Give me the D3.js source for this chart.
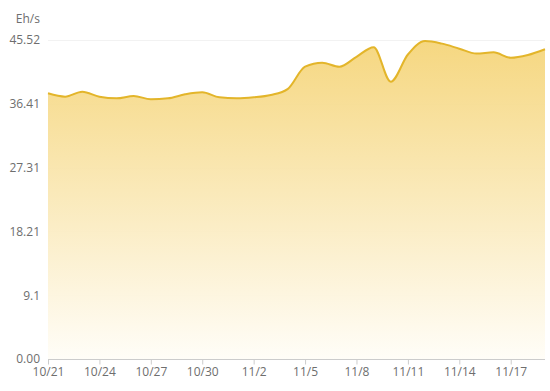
<!DOCTYPE html>
<html><head><meta charset="utf-8">
<script src="https://cdn.jsdelivr.net/npm/d3@7"></script>
<style>html,body{margin:0;padding:0;background:#fff;}svg{display:block;}</style>
</head><body>
<div id="chart"></div>
<script>
const dates = ["10/21","10/22","10/23","10/24","10/25","10/26","10/27","10/28","10/29","10/30","10/31","11/1","11/2","11/3","11/4","11/5","11/6","11/7","11/8","11/9","11/10","11/11","11/12","11/13","11/14","11/15","11/16","11/17","11/18","11/19"];
const hashrate = [37.91,37.43,38.14,37.43,37.20,37.53,37.06,37.20,37.77,38.06,37.34,37.20,37.34,37.67,38.55,41.71,42.28,41.71,43.12,44.50,39.57,43.45,45.38,45.00,44.28,43.58,43.76,42.98,43.38,44.20];
const xTickLabels = ["10/21","10/24","10/27","10/30","11/2","11/5","11/8","11/11","11/14","11/17"];
const yTickValues = [0, 9.104, 18.208, 27.312, 36.416, 45.52];
const yTickLabels = ["0.00","9.1","18.21","27.31","36.41","45.52"];
const unitLabel = "Eh/s";

const W = 550, H = 391;
const m = {left: 48, right: 5, top: 40, bottom: 32};
const svg = d3.select("#chart").append("svg").attr("width", W).attr("height", H);
const font = "'Open Sans', 'Noto Sans', sans-serif";

const x = d3.scalePoint().domain(dates).range([m.left, W - m.right]);
const y = d3.scaleLinear().domain([0, 45.52]).range([H - m.bottom, m.top]);

const defs = svg.append("defs");
const grad = defs.append("linearGradient").attr("id","g").attr("x1",0).attr("y1",0).attr("x2",0).attr("y2",1);
grad.append("stop").attr("offset","0%").attr("stop-color","#f5d57a");
grad.append("stop").attr("offset","100%").attr("stop-color","#fffdf7");

// grid
svg.append("g").selectAll("line").data(yTickValues.slice(1)).join("line")
  .attr("x1", m.left).attr("x2", W - m.right)
  .attr("y1", d => Math.round(y(d)) + 0.5).attr("y2", d => Math.round(y(d)) + 0.5)
  .attr("stroke", "#f2f2f2").attr("stroke-width", 1);

const pts = dates.map((d,i) => [x(d), hashrate[i]]);
const curve = d3.curveMonotoneX;
const area = d3.area().x(d => d[0]).y0(y(0)).y1(d => y(d[1])).curve(curve);
const line = d3.line().x(d => d[0]).y(d => y(d[1])).curve(curve);

svg.append("path").datum(pts).attr("d", area).attr("fill", "url(#g)").attr("opacity", 0.95);
svg.append("path").datum(pts).attr("d", line).attr("fill", "none").attr("stroke", "#e3b52a").attr("stroke-width", 2);

// y axis labels
const yAxis = d3.axisLeft(y).tickValues(yTickValues).tickFormat((d,i) => yTickLabels[i]).tickSize(0).tickPadding(8);
const gy = svg.append("g").attr("transform", `translate(${m.left},0)`).call(yAxis);
gy.select(".domain").remove();
gy.selectAll("text").attr("fill", "#6e6e6e").style("font-family", font).style("font-size", "12px");

svg.append("text").attr("x", 40).attr("y", 23).attr("text-anchor", "end")
  .attr("fill", "#6e6e6e").style("font-family", font).style("font-size", "12px").text(unitLabel);

// x axis
const xAxis = d3.axisBottom(x).tickValues(xTickLabels).tickSize(5).tickPadding(3);
const gx = svg.append("g").attr("transform", `translate(0,${H - m.bottom + 0.5})`).call(xAxis);
gx.select(".domain").attr("stroke", "#cccccc").attr("d", `M${m.left},0H${W - m.right}`);
gx.selectAll(".tick line").attr("stroke", "#cccccc");
gx.selectAll("text").attr("fill", "#6e6e6e").style("font-family", font).style("font-size", "12px");
</script>
</body></html>
